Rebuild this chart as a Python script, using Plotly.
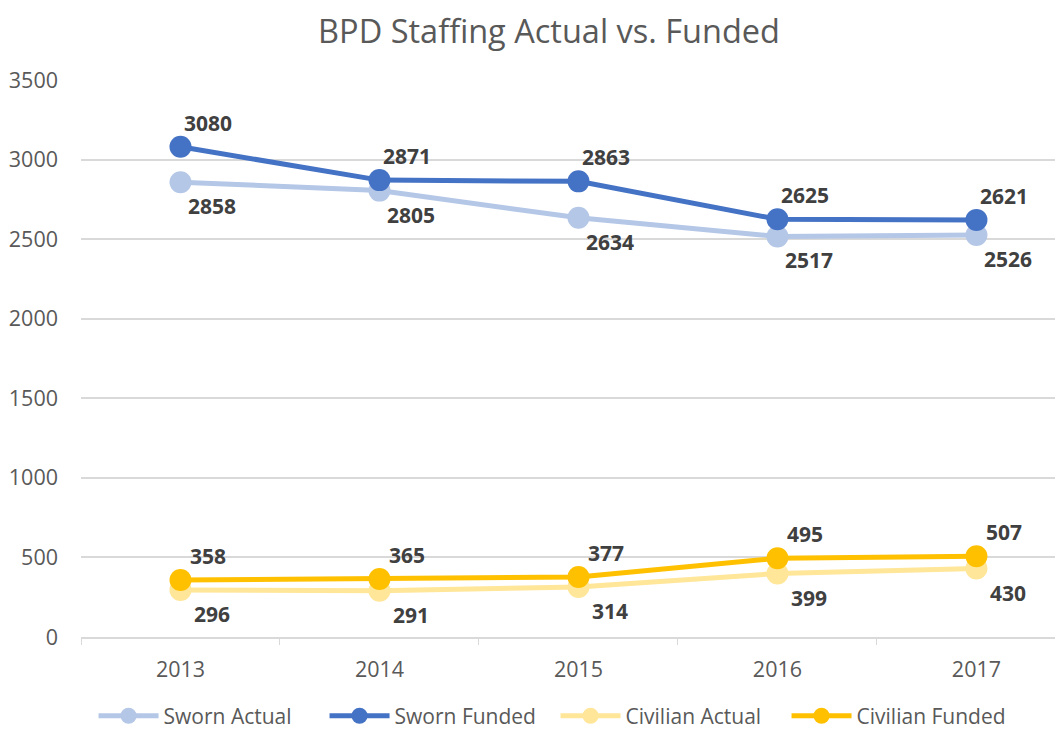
import plotly.graph_objects as go

# BPD staffing, actual vs funded

years = ["2013", "2014", "2015", "2016", "2017"]
sworn_actual = [2858, 2805, 2634, 2517, 2526]
sworn_funded = [3080, 2871, 2863, 2625, 2621]
civilian_actual = [296, 291, 314, 399, 430]
civilian_funded = [358, 365, 377, 495, 507]

# name, values, colour, label above (+1) or below (-1)
series = [
    ("Sworn Actual", sworn_actual, "#B4C7E7", -1),
    ("Sworn Funded", sworn_funded, "#4472C4", 1),
    ("Civilian Actual", civilian_actual, "#FFE699", -1),
    ("Civilian Funded", civilian_funded, "#FFC000", 1),
]

font = "Open Sans"

fig = go.Figure()

for name, values, color, side in series:
    fig.add_trace(go.Scatter(
        x=years, y=values, name=name,
        mode="lines+markers",
        line=dict(color=color, width=5),
        marker=dict(color=color, size=22),
        cliponaxis=False,
    ))
    # data labels, offset to the right of each point (x = category index)
    for i, v in enumerate(values):
        fig.add_annotation(
            x=i, y=v, xref="x", yref="y", text=str(v), showarrow=False,
            xanchor="center", yanchor="middle",
            xshift=28 if side > 0 else 32, yshift=24 * side,
            font=dict(family=font, size=21, color="#404040", weight="bold"),
        )

# the page body adds an 8px margin, so the figure is 8px smaller each way
fig.update_layout(
    width=1055, height=724,
    margin=dict(l=73, r=0, t=72, b=95),
    paper_bgcolor="white", plot_bgcolor="white",
    font=dict(family=font, color="#595959"),
    title=dict(text="BPD Staffing Actual vs. Funded", x=0.5128, xanchor="center",
               y=0.968, yanchor="middle", font=dict(size=32.5, color="#595959")),
    legend=dict(orientation="h", xref="container", yref="container",
                x=0.519, xanchor="center", y=0.022, yanchor="middle",
                font=dict(size=21, color="#595959"), itemwidth=60,
                entrywidth=156),
    showlegend=True,
)

fig.update_xaxes(
    type="category", range=[-0.5, 4.435], automargin=False,
    showgrid=False, showline=True, linecolor="#d9d9d9", linewidth=1.5,
    ticks="outside", tickson="boundaries", ticklen=6, tickcolor="#d9d9d9",
    ticklabelstandoff=12,
    tickfont=dict(size=21.5, color="#595959"),
)
fig.update_yaxes(
    range=[0, 3500], dtick=500, automargin=False,
    showgrid=True, gridcolor="#d9d9d9", gridwidth=1.5,
    zeroline=False, showline=False, ticks="", ticklabelstandoff=22,
    tickfont=dict(size=21.5, color="#595959"),
)

fig.write_html("out.html")
